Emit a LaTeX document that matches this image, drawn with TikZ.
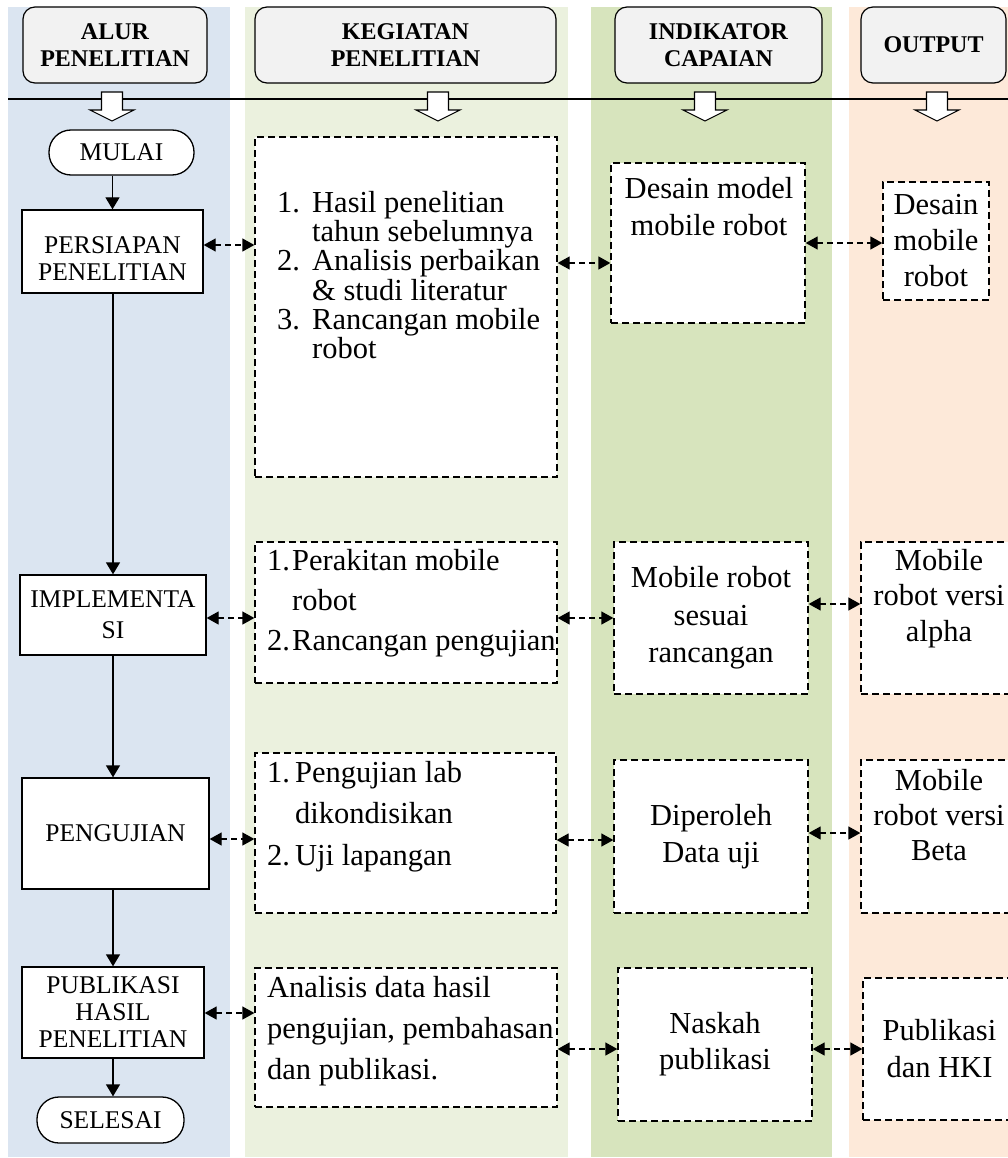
\documentclass[tikz,border=0pt]{standalone}
\usepackage{fontspec}
\setmainfont{Liberation Serif}
\usetikzlibrary{arrows.meta}
\definecolor{cblue}{HTML}{DBE5F1}
\definecolor{cgreenl}{HTML}{EBF1DE}
\definecolor{cgreen}{HTML}{D7E4BD}
\definecolor{cpeach}{HTML}{FDE9D9}
\definecolor{chead}{HTML}{F2F2F2}
\newcommand{\blkarrow}[1]{%
  \draw[blk] ({#1-10.5},92) -- ({#1+10.5},92) -- ({#1+10.5},110) -- ({#1+22},110)
    -- (#1,121) -- ({#1-22},110) -- ({#1-10.5},110) -- cycle;}
\begin{document}
\begin{tikzpicture}[x=1pt,y=-1pt,
  hdr/.style={draw, line width=1.2pt, rounded corners=12pt, fill=chead,
    font=\bfseries\fontsize{24}{27}\selectfont, align=center, inner sep=0pt},
  flow/.style={draw, line width=1.3pt, fill=white, inner sep=0pt, align=center,
    font=\fontsize{25.5}{27}\selectfont},
  term/.style={flow, rounded corners=22pt},
  dbox/.style={draw, line width=1.3pt, dash pattern=on 7pt off 4pt, fill=white,
    inner sep=0pt, align=center, font=\fontsize{30.5}{37}\selectfont},
  txt/.style={inner sep=0pt, font=\fontsize{30.5}{37}\selectfont, align=center},
  lbl/.style={inner sep=0pt, font=\fontsize{25.5}{27}\selectfont, align=center},
  conn/.style={line width=1.3pt, dash pattern=on 6pt off 4pt,
    {Triangle[length=12pt,width=13pt]}-{Triangle[length=12pt,width=13pt]}},
  flowarr/.style={line width=1.3pt, -{Triangle[length=12pt,width=14pt]}},
  blk/.style={draw, line width=1.1pt, fill=white, line join=miter}]
\useasboundingbox (0,0) rectangle (1008,1158);
% column backgrounds
\fill[cblue]   (8,7)   rectangle (230,1157);
\fill[cgreenl] (245,7) rectangle (568,1157);
\fill[cgreen]  (591,7) rectangle (832,1157);
\fill[cpeach]  (849,7) rectangle (1008,1157);
% headers
\node[hdr, minimum width=184, minimum height=76] (h1) at (115,45) {ALUR\\PENELITIAN};
\node[hdr, minimum width=301, minimum height=76] (h2) at (405.5,45) {KEGIATAN\\PENELITIAN};
\node[hdr, minimum width=207, minimum height=76] (h3) at (718.5,45) {INDIKATOR\\CAPAIAN};
\node[hdr, minimum width=145, minimum height=76] (h4) at (933.5,45) {OUTPUT};
% separator line and block arrows
\draw[line width=1.2pt] (8,99) -- (1008,99);
\blkarrow{112}
\blkarrow{438}
\blkarrow{705}
\blkarrow{937}
% column 1: flow
\node[term, minimum width=145, minimum height=45] (mulai) at (121.5,152.5) {MULAI};
\node[flow, minimum width=181, minimum height=83] (persiapan) at (112.5,251.5) {};
\node[lbl] (persiapant) at (112.5,258.5) {PERSIAPAN\\PENELITIAN};
\node[flow, minimum width=186, minimum height=80, font=\fontsize{25.5}{31}\selectfont] (impl) at (113,615) {IMPLEMENTA\\SI};
\node[flow, minimum width=187, minimum height=111] (pengujian) at (115.5,833.5) {PENGUJIAN};
\node[flow, minimum width=182, minimum height=91] (publikasi) at (113,1012.5) {PUBLIKASI\\HASIL\\PENELITIAN};
\node[term, minimum width=147, minimum height=46] (selesai) at (110.5,1120) {SELESAI};
\draw[flowarr] (persiapan.north |- mulai.south) -- (persiapan.north);
\draw[flowarr] (impl.north |- persiapan.south) -- (impl.north);
\draw[flowarr] (impl.south) -- (impl.south |- pengujian.north);
\draw[flowarr] (publikasi.north |- pengujian.south) -- (publikasi.north);
\draw[flowarr] (publikasi.south) -- (publikasi.south |- selesai.north);
% column 2: kegiatan
\node[dbox, minimum width=302, minimum height=340] (b1) at (406,307) {};
\node[txt, align=left, anchor=west, font=\fontsize{30.5}{29.2}\selectfont] (b1t) at (277,275)
  {\makebox[35pt][l]{1.}Hasil penelitian\\
   \hspace*{35pt}tahun sebelumnya\\
   \makebox[35pt][l]{2.}Analisis perbaikan\\
   \hspace*{35pt}\& studi literatur\\
   \makebox[35pt][l]{3.}Rancangan mobile\\
   \hspace*{35pt}robot};
\node[dbox, minimum width=302, minimum height=141] (b2) at (406,612.5) {};
\begin{scope}
\clip (b2.south west) rectangle (b2.north east);
\node[txt, align=left, anchor=west, font=\fontsize{30.5}{40}\selectfont] (b2t) at (267,603)
  {\makebox[25pt][l]{1.}Perakitan mobile\\
   \hspace*{25pt}robot\\
   \makebox[25pt][l]{2.}Rancangan pengujian};
\end{scope}
\node[dbox, minimum width=301, minimum height=160] (b3) at (405.5,833) {};
\node[txt, align=left, anchor=west, font=\fontsize{30.5}{41.5}\selectfont] (b3t) at (267,816.5)
  {\makebox[28pt][l]{1.}Pengujian lab\\
   \hspace*{28pt}dikondisikan\\
   \makebox[28pt][l]{2.}Uji lapangan};
\node[dbox, minimum width=302, minimum height=139] (b4) at (406,1037.5) {};
\node[txt, align=left, anchor=west, font=\fontsize{30.5}{41}\selectfont] (b4t) at (267,1031)
  {Analisis data hasil\\pengujian, pembahasan\\dan publikasi.};
% column 3: indikator
\node[dbox, minimum width=194, minimum height=160] (i1) at (708,243) {};
\node[txt] (i1t) at (709,207) {Desain model\\mobile robot};
\node[dbox, minimum width=194, minimum height=152, font=\fontsize{30.5}{37.5}\selectfont] (i2) at (711,618) {Mobile robot\\sesuai\\rancangan};
\node[dbox, minimum width=194, minimum height=153] (i3) at (711,836.5) {Diperoleh\\Data uji};
\node[dbox, minimum width=194, minimum height=153, font=\fontsize{30.5}{36}\selectfont] (i4) at (715,1044.5) {Naskah\\publikasi};
% column 4: output
\node[dbox, minimum width=106, minimum height=118, font=\fontsize{30.5}{36}\selectfont] (o1) at (936,241) {Desain\\mobile\\robot};
\node[dbox, minimum width=155, minimum height=152] (o2) at (938.5,618) {};
\node[txt, font=\fontsize{30.5}{35.5}\selectfont] (o2t) at (939,598.5) {Mobile\\robot versi\\alpha};
\node[dbox, minimum width=155, minimum height=153] (o3) at (938.5,836.5) {};
\node[txt, font=\fontsize{30.5}{35}\selectfont] (o3t) at (939,815) {Mobile\\robot versi\\Beta};
\node[dbox, minimum width=153, minimum height=142] (o4) at (939.5,1049) {Publikasi\\dan HKI};
% connectors
\draw[conn] (persiapan.east |- 0,245) -- (b1.west |- 0,245);
\draw[conn] (b1.east |- 0,263) -- (i1.west |- 0,263);
\draw[conn] (i1.east |- 0,243) -- (o1.west |- 0,243);
\draw[conn] (impl.east |- 0,618) -- (b2.west |- 0,618);
\draw[conn] (b2.east |- 0,618) -- (i2.west |- 0,618);
\draw[conn] (i2.east |- 0,604) -- (o2.west |- 0,604);
\draw[conn] (pengujian.east |- 0,839) -- (b3.west |- 0,839);
\draw[conn] (b3.east |- 0,840) -- (i3.west |- 0,840);
\draw[conn] (i3.east |- 0,833) -- (o3.west |- 0,833);
\draw[conn] (publikasi.east |- 0,1013) -- (b4.west |- 0,1013);
\draw[conn] (b4.east |- 0,1049) -- (i4.west |- 0,1049);
\draw[conn] (i4.east |- 0,1049) -- (o4.west |- 0,1049);
\end{tikzpicture}
\end{document}
